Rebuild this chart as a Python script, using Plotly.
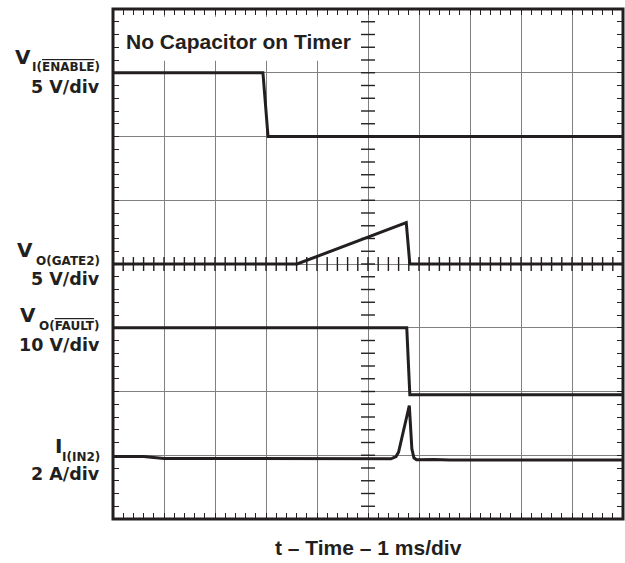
import numpy as np
import plotly.graph_objects as go

# Oscilloscope traces: time in divisions (1 ms/div), level in screen divisions from bottom
t_enable = [0.0, 2.94, 3.04, 10.0]
v_enable = [7.0, 7.0, 6.0, 6.0]

t_gate2 = [0.0, 3.61, 5.75, 5.82, 10.0]
v_gate2 = [4.0, 4.0, 4.65, 4.0, 4.0]

t_fault = [0.0, 5.76, 5.82, 10.0]
v_fault = [3.0, 3.0, 1.95, 1.95]

t_in2 = [0.0, 0.6, 1.0, 3.1, 3.3, 5.45, 5.55, 5.6, 5.81, 5.86, 5.9, 5.95, 6.3, 6.6, 10.0]
i_in2 = [0.98, 0.98, 0.95, 0.95, 0.94, 0.945, 0.98, 1.05, 1.78, 1.1, 0.96, 0.93, 0.935, 0.925, 0.925]

n_xdiv = 10
n_ydiv = 8
minor_step = 0.2

INK = "#231f20"
GRID = "#808080"
FONT = "Liberation Sans, Arial, sans-serif"
LFONT = "DejaVu Sans, Liberation Sans, sans-serif"

L, R, T, B = 113, 2, 9, 44
W, H = 625, 563
PW, PH = W - L - R, H - T - B


def pxx(x):
    return (x - L) / PW


def pxy(y):
    return (H - B - y) / PH


fig = go.Figure()

for tx, ty in [(t_enable, v_enable), (t_gate2, v_gate2), (t_fault, v_fault), (t_in2, i_in2)]:
    fig.add_trace(go.Scatter(x=tx, y=ty, mode="lines",
                             line=dict(color=INK, width=3), hoverinfo="skip"))

# centre crosshair minor ticks
cx = np.arange(minor_step, n_xdiv, minor_step)
cy = np.arange(minor_step, n_ydiv, minor_step)
fig.add_trace(go.Scatter(x=cx, y=np.full(len(cx), n_ydiv / 2), mode="markers",
                         marker=dict(symbol="line-ns", size=10, line=dict(color=INK, width=1.4)),
                         hoverinfo="skip"))
fig.add_trace(go.Scatter(x=np.full(len(cy), n_xdiv / 2), y=cy, mode="markers",
                         marker=dict(symbol="line-ew", size=10, line=dict(color=INK, width=1.4)),
                         hoverinfo="skip"))

axis_common = dict(dtick=1, tick0=0, showgrid=True, gridcolor=GRID, gridwidth=1,
                   zeroline=False, showticklabels=False, ticks="inside", ticklen=6,
                   tickwidth=1.4, tickcolor=INK, mirror="ticks", showline=False,
                   minor=dict(dtick=minor_step, tick0=0, ticks="inside", ticklen=6,
                              tickwidth=1.4, tickcolor=INK, showgrid=False),
                   fixedrange=True)

fig.update_xaxes(range=[0, n_xdiv], **axis_common)
fig.update_yaxes(range=[0, n_ydiv], **axis_common)

# white label box hiding grid behind the note
fig.add_shape(type="rect", xref="x", yref="y", x0=0.08, x1=4.84, y0=7.19, y1=7.88,
              fillcolor="white", line=dict(width=0), layer="between")
# frame
fig.add_shape(type="rect", xref="paper", yref="paper", x0=0, x1=1, y0=0, y1=1,
              line=dict(color=INK, width=3), layer="above")


def label(text, x_px, baseline_px, size, anchor="right", family=LFONT):
    fig.add_annotation(text=text, xref="paper", yref="paper",
                       x=pxx(x_px), y=pxy(baseline_px - 0.346 * size),
                       xanchor=anchor, yanchor="middle", showarrow=False, borderpad=0,
                       font=dict(family=family, size=size, color=INK, weight="bold"))


OV = "<span style='text-decoration:overline'>{}</span>"

label("V", 32, 64, 20)
label("I(" + OV.format("ENABLE") + ")", 101, 71, 12)
label("5 V/div", 101, 93, 17.5)

label("V", 34, 257, 20)
label("O(GATE2)", 101, 265, 12)
label("5 V/div", 101, 285.5, 17.5)

label("V", 36.5, 322, 20)
label("O(" + OV.format("FAULT") + ")", 101, 330, 12)
label("10 V/div", 101, 351, 17.5)

label("I", 63, 453, 20)
label("I(IN2)", 101, 461, 12)
label("2 A/div", 101, 480, 17.5)

label("No Capacitor on Timer", 125, 48.3, 21, anchor="left", family=FONT)
label("t – Time – 1 ms/div", 368, 555, 21, anchor="center", family=FONT)

fig.update_layout(width=W, height=H, margin=dict(l=L, r=R, t=T, b=B),
                  plot_bgcolor="white", paper_bgcolor="white", showlegend=False)

fig.write_html("out.html", config={"displayModeBar": False},
               post_script="document.body.style.margin='0';document.body.style.overflow='hidden';")
